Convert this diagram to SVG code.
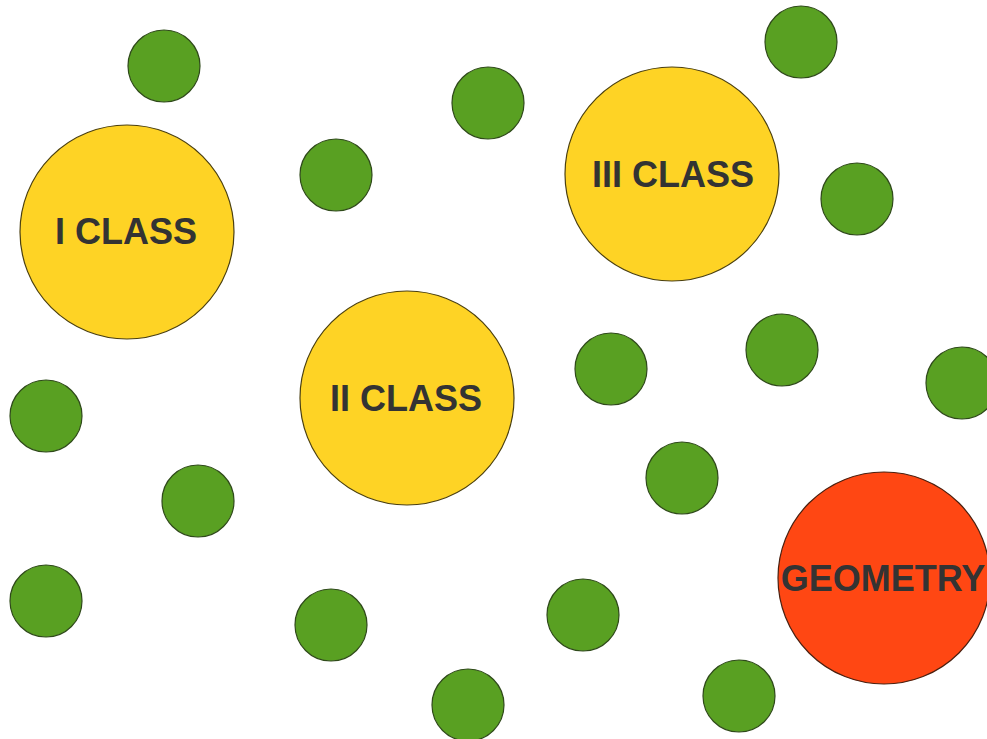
<svg xmlns="http://www.w3.org/2000/svg" width="987" height="739" viewBox="0 0 987 739">
<style>
.g{fill:#59A022;stroke:#2f4a1a;stroke-width:1.2}
.y{fill:#FED325;stroke:#4a3f10;stroke-width:1.2}
.r{fill:#FF4713;stroke:#4a2010;stroke-width:1.2}
.t{font-family:"Liberation Sans",Arial,sans-serif;font-weight:bold;font-size:36px;fill:#333;text-anchor:middle}
</style>
<rect width="987" height="739" fill="#fff"/>
<g id="dots">
<circle class="g" cx="164" cy="66" r="36"/>
<circle class="g" cx="488" cy="103" r="36"/>
<circle class="g" cx="336" cy="175" r="36"/>
<circle class="g" cx="801" cy="42" r="36"/>
<circle class="g" cx="857" cy="199" r="36"/>
<circle class="g" cx="46" cy="416" r="36"/>
<circle class="g" cx="198" cy="501" r="36"/>
<circle class="g" cx="46" cy="601" r="36"/>
<circle class="g" cx="611" cy="369" r="36"/>
<circle class="g" cx="782" cy="350" r="36"/>
<circle class="g" cx="962" cy="383" r="36"/>
<circle class="g" cx="682" cy="478" r="36"/>
<circle class="g" cx="331" cy="625" r="36"/>
<circle class="g" cx="583" cy="615" r="36"/>
<circle class="g" cx="468" cy="705" r="36"/>
<circle class="g" cx="739" cy="696" r="36"/>
</g>
<g id="class1"><circle class="y" cx="127" cy="232" r="107"/><text class="t" x="126" y="244">I CLASS</text></g>
<g id="class3"><circle class="y" cx="672" cy="174" r="107"/><text class="t" x="673" y="187">III CLASS</text></g>
<g id="class2"><circle class="y" cx="407" cy="398" r="107"/><text class="t" x="406" y="411">II CLASS</text></g>
<g id="geometry"><circle class="r" cx="884" cy="578" r="106"/><text class="t" x="883" y="591">GEOMETRY</text></g>
</svg>
